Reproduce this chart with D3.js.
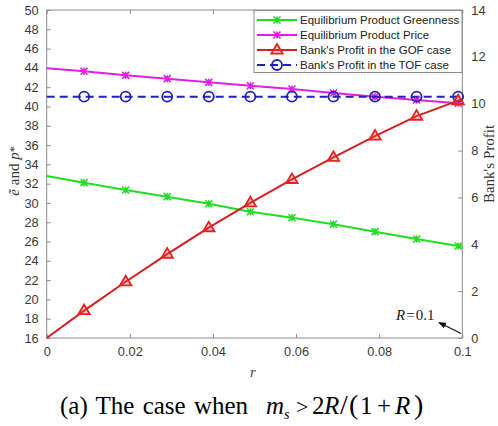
<!DOCTYPE html>
<html>
<head>
<meta charset="utf-8">
<script src="https://cdn.jsdelivr.net/npm/d3@7/dist/d3.min.js"></script>
<style>
  html, body { margin: 0; padding: 0; background: #fff; }
  svg { display: block; }
</style>
</head>
<body>
<svg id="chart" width="498" height="426"></svg>
<script>
// Interest rate r at which each curve is sampled (markers sit on the inner points)
const rValues = [0, 0.009, 0.019, 0.029, 0.039, 0.049, 0.059, 0.069, 0.079, 0.089, 0.099, 0.1];

// Left axis series
const greenness = [32.79, 32.10, 31.34, 30.65, 29.92, 29.09, 28.47, 27.79, 27.02, 26.26, 25.54, 25.47];
const price     = [43.95, 43.65, 43.23, 42.88, 42.50, 42.15, 41.81, 41.40, 41.00, 40.67, 40.33, 40.29];

// Right axis series (bank's profit)
const profitGOF = [0.00, 1.17, 2.40, 3.58, 4.71, 5.77, 6.77, 7.71, 8.62, 9.47, 10.13, 10.20];
const profitTOF = [10.30, 10.30, 10.30, 10.30, 10.30, 10.30, 10.30, 10.30, 10.30, 10.30, 10.30, 10.30];

const xTicks = [0, 0.02, 0.04, 0.06, 0.08, 0.1];
const yLeftTicks = [16, 18, 20, 22, 24, 26, 28, 30, 32, 34, 36, 38, 40, 42, 44, 46, 48, 50];
const yRightTicks = [0, 2, 4, 6, 8, 10, 12, 14];

const legendLabels = [
  "Equilibrium Product Greenness",
  "Equilibrium Product Price",
  "Bank's Profit in the GOF case",
  "Bank's Profit in the TOF case"
];

const svg = d3.select("#chart");
const plotLeft = 46.7, plotRight = 462.3, plotTop = 10, plotBottom = 338;

const x = d3.scaleLinear().domain([0, 0.1]).range([plotLeft, plotRight]);
const yL = d3.scaleLinear().domain([16, 50]).range([plotBottom, plotTop]);
const yR = d3.scaleLinear().domain([0, 14]).range([plotBottom, plotTop]);

const axisColor = "#8c8c8c";
const labelColor = "#3a3a3a";
const sansFont = "'Liberation Sans', Arial, sans-serif";
const serifFont = "'Liberation Serif', 'Times New Roman', serif";

// Axes: ticks point inward, MATLAB style
function styleAxis(g) {
  g.select(".domain").remove();
  g.selectAll(".tick line").attr("stroke", axisColor);
  g.selectAll(".tick text")
    .attr("fill", labelColor)
    .style("font-family", sansFont)
    .style("font-size", "12.8px");
}

svg.append("g")
  .attr("transform", `translate(0,${plotBottom})`)
  .call(d3.axisBottom(x).tickValues(xTicks).tickFormat(d3.format("~g")).tickSizeInner(-4).tickPadding(9))
  .call(styleAxis);

svg.append("g")
  .attr("transform", `translate(0,${plotTop})`)
  .call(d3.axisTop(x).tickValues(xTicks).tickFormat("").tickSizeInner(-4))
  .call(styleAxis);

svg.append("g")
  .attr("transform", `translate(${plotLeft},0)`)
  .call(d3.axisLeft(yL).tickValues(yLeftTicks).tickSizeInner(-4).tickPadding(8))
  .call(styleAxis);

svg.append("g")
  .attr("transform", `translate(${plotRight},0)`)
  .call(d3.axisRight(yR).tickValues(yRightTicks).tickSizeInner(-4).tickPadding(9))
  .call(styleAxis);

// Plot box
svg.append("rect")
  .attr("x", plotLeft).attr("y", plotTop)
  .attr("width", plotRight - plotLeft).attr("height", plotBottom - plotTop)
  .attr("fill", "none").attr("stroke", axisColor).attr("stroke-width", 1);

const colors = {
  green: "#22dd22",
  magenta: "#e020e0",
  red: "#d42020",
  blue: "#2222b8"
};

function drawLine(values, yScale, color, dash) {
  const line = d3.line().x((d, i) => x(rValues[i])).y(d => yScale(d));
  svg.append("path")
    .datum(values)
    .attr("d", line)
    .attr("fill", "none")
    .attr("stroke", color)
    .attr("stroke-width", 2)
    .attr("stroke-dasharray", dash || null);
}

function crossMarker(g, cx, cy, color) {
  const s = 3.5;
  g.append("path")
    .attr("d", `M${cx - s},${cy - s}L${cx + s},${cy + s}M${cx - s},${cy + s}L${cx + s},${cy - s}M${cx},${cy - s}L${cx},${cy + s}`)
    .attr("stroke", color).attr("stroke-width", 1.6).attr("fill", "none");
}
function triMarker(g, cx, cy, color) {
  const s = 6;
  g.append("path")
    .attr("d", `M${cx},${cy - s}L${cx + s * 0.95},${cy + s * 0.6}L${cx - s * 0.95},${cy + s * 0.6}Z`)
    .attr("stroke", color).attr("stroke-width", 1.8).attr("fill", "rgba(255,60,60,0.25)");
}
function circleMarker(g, cx, cy, color) {
  g.append("circle").attr("cx", cx).attr("cy", cy).attr("r", 5)
    .attr("stroke", color).attr("stroke-width", 1.8).attr("fill", "none");
}

function drawMarkers(values, yScale, color, shape) {
  const g = svg.append("g");
  values.forEach((v, i) => {
    if (i === 0 || i === values.length - 1) return;
    shape(g, x(rValues[i]), yScale(v), color);
  });
}

drawLine(price, yL, colors.magenta);
drawMarkers(price, yL, colors.magenta, crossMarker);
drawLine(profitTOF, yR, colors.blue, "8,5");
drawMarkers(profitTOF, yR, colors.blue, circleMarker);
drawLine(greenness, yL, colors.green);
drawMarkers(greenness, yL, colors.green, crossMarker);
drawLine(profitGOF, yR, colors.red);
drawMarkers(profitGOF, yR, "#e82020", triMarker);

// Legend
const lg = svg.append("g");
lg.append("rect")
  .attr("x", 254).attr("y", 10.5).attr("width", 208).attr("height", 62)
  .attr("fill", "#fff").attr("stroke", axisColor).attr("stroke-width", 1);

const legendStyles = [
  { color: colors.green, shape: crossMarker },
  { color: colors.magenta, shape: crossMarker },
  { color: colors.red, shape: triMarker, mcolor: "#e82020" },
  { color: colors.blue, shape: circleMarker, dash: "8,5" }
];
legendLabels.forEach((label, i) => {
  const yy = 20 + i * 15;
  const st = legendStyles[i];
  lg.append("line")
    .attr("x1", 257).attr("x2", 297).attr("y1", yy).attr("y2", yy)
    .attr("stroke", st.color).attr("stroke-width", 2)
    .attr("stroke-dasharray", st.dash || null);
  st.shape(lg, 277, yy, st.mcolor || st.color);
  lg.append("text")
    .attr("x", 300).attr("y", yy + 4)
    .attr("fill", "#222")
    .style("font-family", sansFont)
    .style("font-size", "11.5px")
    .text(label);
});

// Axis titles
svg.append("text")
  .attr("x", 253).attr("y", 377)
  .attr("text-anchor", "middle")
  .attr("fill", "#444")
  .style("font-family", serifFont)
  .style("font-size", "15px")
  .style("font-style", "italic")
  .text("r");

const yTitle = svg.append("text")
  .attr("transform", "translate(18.5,171) rotate(-90)")
  .attr("text-anchor", "middle")
  .attr("fill", "#333")
  .style("font-family", serifFont)
  .style("font-size", "15px");
yTitle.append("tspan").style("font-style", "italic").text("\u1EBD");
yTitle.append("tspan").text(" and ");
yTitle.append("tspan").style("font-style", "italic").text("p");
yTitle.append("tspan").attr("dy", -1).style("font-size", "12px").text("*");

svg.append("text")
  .attr("transform", "translate(494,164) rotate(-90)")
  .attr("text-anchor", "middle")
  .attr("fill", "#333")
  .style("font-family", serifFont)
  .style("font-size", "15px")
  .text("Bank's Profit");

// Annotation with arrow
const defs = svg.append("defs");
defs.append("marker")
  .attr("id", "arrowhead")
  .attr("viewBox", "0 0 10 10")
  .attr("refX", 9).attr("refY", 5)
  .attr("markerWidth", 7).attr("markerHeight", 7)
  .attr("orient", "auto")
  .append("path").attr("d", "M0,1L10,5L0,9Z").attr("fill", "#111");

svg.append("line")
  .attr("x1", 461).attr("y1", 333.5).attr("x2", 439).attr("y2", 322.5)
  .attr("stroke", "#111").attr("stroke-width", 1.1)
  .attr("marker-end", "url(#arrowhead)");

const ann = svg.append("text")
  .attr("x", 396).attr("y", 319.5)
  .attr("fill", "#222")
  .style("font-family", serifFont)
  .style("font-size", "15px");
ann.append("tspan").style("font-style", "italic").text("R");
ann.append("tspan").attr("dx", 1).text("=");
ann.append("tspan").attr("dx", 1).text("0.1");

// Caption
const cap = svg.append("text")
  .attr("y", 414)
  .attr("fill", "#000")
  .style("font-family", serifFont)
  .style("font-size", "25px");
cap.append("tspan").attr("x", 60)
  .style("word-spacing", "2px")
  .text("(a) The case when");
cap.append("tspan").attr("x", 266).style("font-style", "italic").text("m");
cap.append("tspan").attr("x", 284).attr("dy", 5).style("font-style", "italic").style("font-size", "14px").text("s");
cap.append("tspan").attr("x", 296).attr("dy", -5).style("font-size", "22px").text(">");
cap.append("tspan").attr("x", 312).text("2");
cap.append("tspan").attr("x", 324).style("font-style", "italic").text("R");
cap.append("tspan").attr("x", 340).style("font-size", "28px").text("/");
cap.append("tspan").attr("x", 349).style("font-size", "28px").text("(");
cap.append("tspan").attr("x", 360).text("1");
cap.append("tspan").attr("x", 377).text("+");
cap.append("tspan").attr("x", 395).style("font-style", "italic").text("R");
cap.append("tspan").attr("x", 414).style("font-size", "28px").text(")");
</script>
</body>
</html>
